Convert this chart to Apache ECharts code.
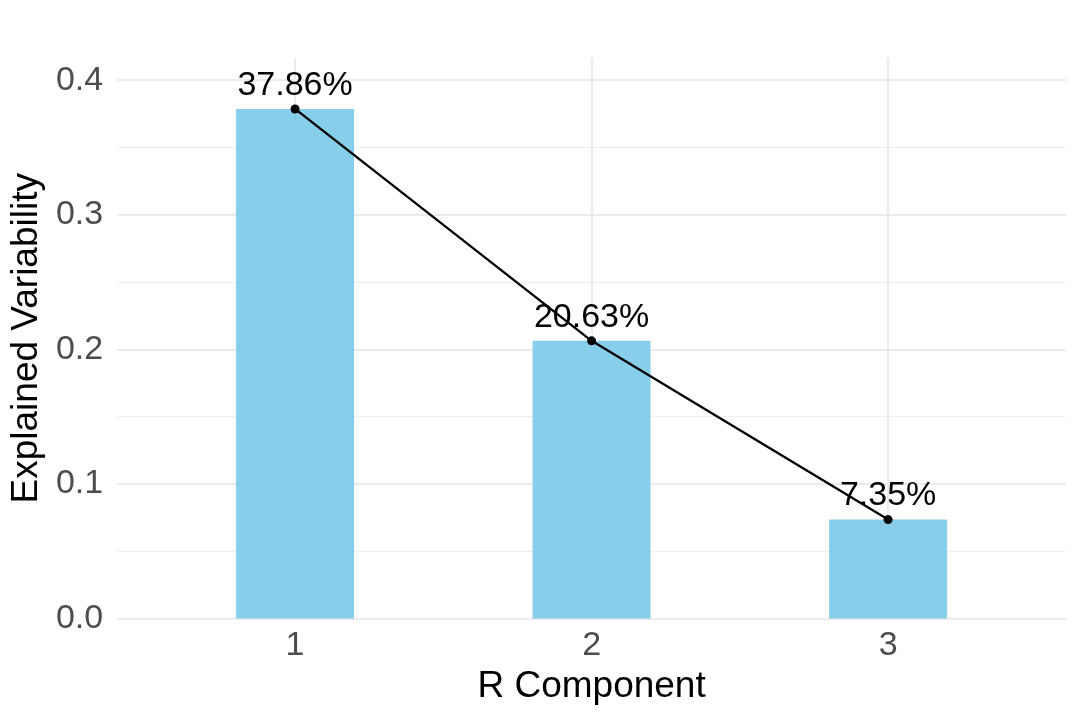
<!DOCTYPE html>
<html lang="en">
<head>
    <meta charset="UTF-8">
    <title>Explained Variability</title>
    <script src="https://cdn.jsdelivr.net/npm/echarts@6/dist/echarts.min.js"></script>
    <style>
        html, body { margin: 0; padding: 0; background: #ffffff; }
        #main { width: 1080px; height: 720px; }
    </style>
</head>
<body>
<div id="main"></div>
<script>
    // data
    var components = [1, 2, 3];
    var explained = [0.3786, 0.2063, 0.0735];
    var pctLabels = ['37.86%', '20.63%', '7.35%'];
    var yTicks = [0, 0.1, 0.2, 0.3, 0.4];
    var yMinor = [0.05, 0.15, 0.25, 0.35];

    var font = 'Liberation Sans, Arial, sans-serif';
    var points = components.map(function (c, i) { return [c, explained[i]]; });

    var chart = echarts.init(document.getElementById('main'));
    var option = {
        backgroundColor: '#ffffff',
        animation: false,
        grid: { left: 117, right: 14, top: 58, bottom: 101.5 },
        xAxis: {
            type: 'value',
            min: 0.4,
            max: 3.6,
            name: 'R Component',
            nameLocation: 'middle',
            nameGap: 50,
            nameTextStyle: { color: '#000000', fontSize: 37, fontFamily: font },
            axisLine: { show: false },
            axisTick: { show: false, customValues: components },
            axisLabel: {
                customValues: components,
                color: '#4D4D4D', fontSize: 34, fontFamily: font, margin: 10
            },
            splitLine: { show: true, lineStyle: { color: '#EBEBEB', width: 2 } }
        },
        yAxis: [{
            type: 'value',
            min: 0,
            max: 0.41646,
            name: 'Explained Variability',
            nameLocation: 'middle',
            nameGap: 66,
            nameTextStyle: { color: '#000000', fontSize: 37, fontFamily: font },
            axisLine: { show: false },
            axisTick: { show: false, customValues: yTicks },
            axisLabel: {
                customValues: yTicks,
                formatter: function (v) { return v.toFixed(1); },
                color: '#4D4D4D', fontSize: 34, fontFamily: font, margin: 14
            },
            splitLine: { show: true, lineStyle: { color: '#EBEBEB', width: 2 } }
        }, {
            // minor gridlines only
            type: 'value',
            min: 0,
            max: 0.41646,
            position: 'left',
            axisLine: { show: false },
            axisTick: { show: false, customValues: yMinor },
            axisLabel: { show: false, customValues: yMinor },
            splitLine: { show: true, lineStyle: { color: '#EFEFEF', width: 1 } }
        }],
        series: [
            {
                type: 'bar',
                data: points,
                barWidth: 118,
                itemStyle: { color: '#87CEEB' },
                z: 2
            },
            {
                type: 'line',
                data: points,
                symbol: 'circle',
                symbolSize: 9,
                itemStyle: { color: '#000000' },
                lineStyle: { color: '#000000', width: 2.3 },
                label: {
                    show: true,
                    position: 'top',
                    distance: 2,
                    formatter: function (p) { return pctLabels[p.dataIndex]; },
                    color: '#000000', fontSize: 34, fontFamily: font
                },
                z: 3
            }
        ]
    };
    chart.setOption(option);
</script>
</body>
</html>
